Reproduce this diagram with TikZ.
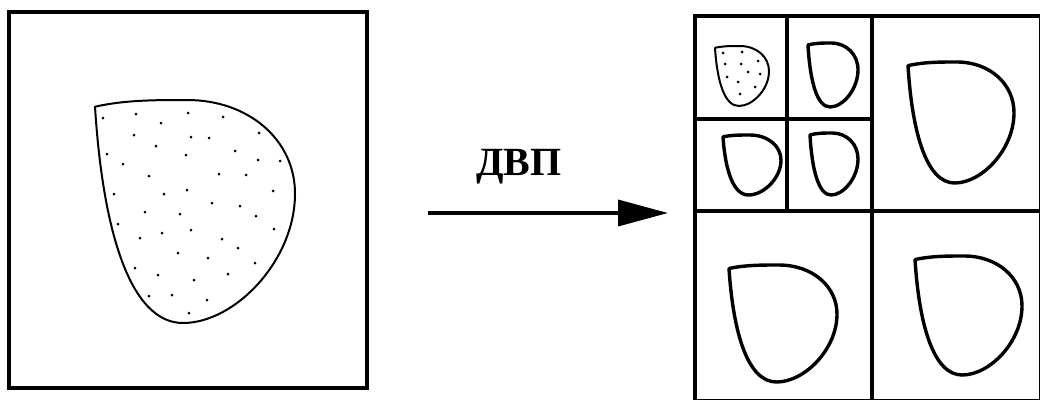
\documentclass[tikz,border=0pt]{standalone}
\usepackage{fontspec}
\setmainfont{Liberation Serif}
\usepackage{tikz}
\usetikzlibrary{arrows.meta}
\newcommand{\drop}[5][bold]{%
  \begin{scope}[shift={(#2,#3)},xscale=#4,yscale=#5]
    \draw[#1] (0,0.03) .. controls (0.15,0) and (0.3,0) .. (0.46,0)
      .. controls (0.77,0) and (1,0.18) .. (1,0.42)
      .. controls (1,0.72) and (0.7,1) .. (0.44,1)
      .. controls (0.18,1) and (0.04,0.6) .. cycle;
  \end{scope}}

\begin{document}
\begin{tikzpicture}[x=1pt,y=-1pt,
  frame/.style={line width=3.6pt},
  bold/.style={line width=3.4pt,line join=round},
  fine/.style={line width=2pt,line join=round}]
  \useasboundingbox (0,0) rectangle (1040,399);
  \clip (0,0) rectangle (1040,399);
  % source image
  \draw[frame] (9,12) rectangle (367,388);
  \drop[fine]{95}{100}{200}{223}
  \foreach \x/\y in {103/118,136/114,188/113,223/117,161/123,134/135,191/137,
      209/138,259/133,156/146,107/154,186/155,235/151,123/164,258/160,280/161,
      149/176,219/174,246/175,114/194,164/194,187/190,273/191,212/203,240/206,
      145/212,180/214,256/216,118/224,162/233,191/230,274/229,140/238,222/239,
      238/248,178/253,208/258,135/268,255/263,158/275,194/280,228/274,149/296,
      172/295,207/300,189/313}
    \fill (\x,\y) circle[radius=1.5];
  % transform
  \coordinate (from) at (428,213);
  \coordinate (to) at (668,213);
  \draw[line width=3.6pt,-{Triangle[length=50pt,width=26pt]}] (from) -- (to);
  \node (dvp) [font=\bfseries\fontsize{40}{40}\selectfont,anchor=base,inner sep=0pt] at (519,175) {ДВП};
  % decomposition
  \draw[frame] (695,16) rectangle (1041,401);
  \draw[frame] (872,16) -- (872,401) (695,211) -- (1041,211);
  \draw[frame] (787,16) -- (787,211) (695,119) -- (872,119);
  \drop[fine]{715}{46}{54}{60}
  \foreach \x/\y in {723/53,742/52,725/64,741/64,758/61,748/72,727/77,760/74,
      738/82,755/87,740/94}
    \fill (\x,\y) circle[radius=1.5];
  \drop{808}{43}{50}{64}
  \drop{723}{135}{58}{60}
  \drop{810}{133}{48}{62}
  \drop{908}{62}{106}{121}
  \drop{729}{265}{108}{117}
  \drop{915}{256}{107}{119}
\end{tikzpicture}
\end{document}
